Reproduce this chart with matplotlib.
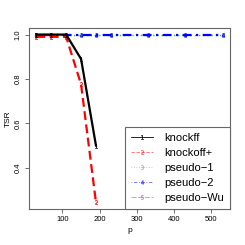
import matplotlib
matplotlib.use("Agg")
import matplotlib.pyplot as plt
from matplotlib.lines import Line2D

plt.rcParams['font.family'] = ['Liberation Sans', 'DejaVu Sans']

p_all = [30, 70, 110, 150, 190, 230, 330, 430, 530]
p_knock = [30, 70, 110, 150, 190]
knockoff = [1.0, 1.0, 1.0, 0.89, 0.50]
knockoff_plus = [0.99, 0.99, 0.99, 0.776, 0.244]
pseudo1 = [1.0] * 9
pseudo2 = [1.0] * 9
p_wu = [30, 70]
pseudo_wu = [1.0, 1.0]

labels = ["knockff", "knockoff+", "pseudo\u22121", "pseudo\u22122", "pseudo\u2212Wu"]
colors = ["black", "#FF0000", "#22CC22", "#0000FF", "#FF00FF"]
styles = ["-", (0, (4, 2)), (0, (1, 2)), (0, (1, 2, 4, 2)), (0, (6, 2))]
widths = [1.6, 1.6, 1.0, 1.6, 1.6]
marks = ["$1$", "$2$", "$3$", "$4$", "$5$"]

series = [(p_knock, knockoff), (p_knock, knockoff_plus), (p_all, pseudo1),
          (p_all, pseudo2), (p_wu, pseudo_wu)]

fig = plt.figure(figsize=(2.45, 2.45), dpi=100)
ax = fig.add_axes([0.118, 0.147, 0.821, 0.739])

order = [2, 3, 4, 1, 0]
for i in order:
    xs, ys = series[i]
    ax.plot(xs, ys, color=colors[i], linestyle=styles[i], linewidth=widths[i],
            marker=marks[i], markersize=3, markeredgewidth=0.2, zorder=3 + (i == 0))

ax.set_xlim(10, 550)
ax.set_ylim(0.214, 1.030)
ax.set_xticks([100, 200, 300, 400, 500])
ax.set_yticks([0.4, 0.6, 0.8, 1.0])
ax.set_yticklabels(["0.4", "0.6", "0.8", "1.0"], rotation=90, va="center")
ax.tick_params(labelsize=5.5, length=3, width=0.6, color="#555555", pad=2)
for s in ax.spines.values():
    s.set_color("#666666")
    s.set_linewidth(0.8)
ax.set_xlabel("p", fontsize=6, labelpad=3)
ax.set_ylabel("TSR", fontsize=6, labelpad=2)

handles = [Line2D([0], [0], color=colors[i], linestyle=styles[i], linewidth=0.6,
                  alpha=1.0 if i == 0 else 0.6,
                  marker=marks[i], markersize=3, markeredgewidth=0.2)
           for i in range(5)]
leg = ax.legend(handles, labels, loc="lower right", bbox_to_anchor=(1.0, 0.0),
                borderaxespad=0, fontsize=8, frameon=True, fancybox=False,
                handlelength=2.0, handletextpad=1.0, labelspacing=0.45,
                borderpad=0.55)
leg.get_frame().set_edgecolor("#666666")
leg.get_frame().set_linewidth(0.8)
leg.get_frame().set_alpha(1)

fig.savefig("out.png", dpi=100)
